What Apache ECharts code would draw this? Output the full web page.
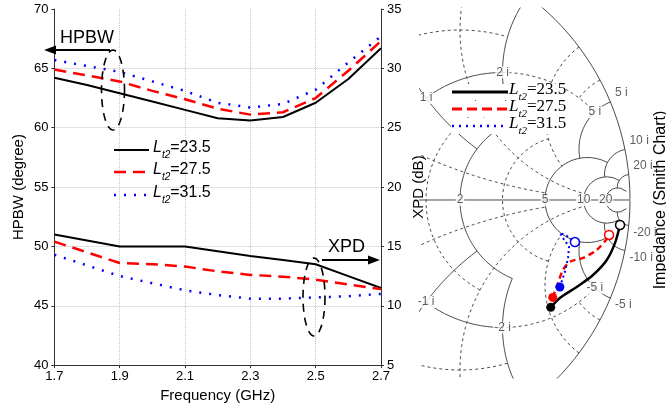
<!DOCTYPE html>
<html>
<head>
<meta charset="utf-8">
<script src="https://cdn.jsdelivr.net/npm/echarts@6/dist/echarts.min.js"></script>
<style>
html, body { margin: 0; padding: 0; background: #fff; }
#main { width: 666px; height: 408px; }
</style>
</head>
<body>
<div id="main"></div>
<script>
// frequency categories (GHz)
var freq = ['1.7', '1.8', '1.9', '2.0', '2.1', '2.2', '2.3', '2.4', '2.5', '2.6', '2.7'];
var names = ['23.5', '27.5', '31.5'];

// HPBW (degree), left axis
var hpbw235 = [64.2, 63.6, 62.9, 62.2, 61.5, 60.8, 60.6, 60.9, 62.1, 64.1, 66.7];
var hpbw275 = [64.9, 64.4, 63.9, 63.1, 62.4, 61.6, 61.1, 61.3, 62.5, 64.8, 67.3];
var hpbw315 = [65.7, 65.2, 64.7, 63.9, 63.1, 62.1, 61.7, 62.0, 63.2, 65.5, 67.7];

// XPD (dB), right axis
var xpd235 = [16.0, 15.5, 15.0, 15.0, 15.0, 14.6, 14.2, 13.85, 13.5, 12.5, 11.5];
var xpd275 = [15.4, 14.5, 13.6, 13.5, 13.3, 12.9, 12.6, 12.45, 12.2, 11.8, 11.4];
var xpd315 = [14.3, 13.4, 12.5, 11.9, 11.3, 10.9, 10.6, 10.6, 10.7, 10.8, 11.0];

// impedance traces, reflection coefficient (re, im), 1.7 GHz -> 2.7 GHz
var gRe235 = [0.689, 0.725, 0.791, 0.855, 0.909, 0.941, 0.961];
var gIm235 = [-0.421, -0.384, -0.341, -0.294, -0.235, -0.169, -0.098];
var gRe275 = [0.697, 0.718, 0.737, 0.765, 0.816, 0.869, 0.909, 0.918];
var gIm275 = [-0.382, -0.325, -0.275, -0.242, -0.227, -0.196, -0.153, -0.137];
var gRe315 = [0.725, 0.745, 0.757, 0.761, 0.737, 0.725, 0.753, 0.784];
var gIm315 = [-0.341, -0.281, -0.227, -0.183, -0.149, -0.129, -0.141, -0.165];

// smith grid: [r, xFrom, xTo] circles and [x, rFrom, rTo] arcs
var majorR = [[0, -1000, 1000], [1, 1, 2], [1, -2, -1], [2, -2, 2], [5, -10, 10], [10, -20, 20], [20, -50, 50]];
var majorX = [[1, 0, 2], [-1, 0, 2], [2, 0, 2], [-2, 0, 2], [5, 0, 5], [-5, 0, 5], [10, 0, 10], [-10, 0, 10], [20, 0, 20], [-20, 0, 20]];
var minorR = [[0.5, -2, 2], [1.5, -1.5, 1.5], [3, -3, 3], [1, 2, 5], [1, -5, -2]];
var minorX = [[0.5, 0, 5], [-0.5, 0, 5], [1.5, 0, 10], [-1.5, 0, 10], [3, 0, 5], [-3, 0, 5], [4, 0, 1], [-4, 0, 1]];

// smith tick labels: text, r, x, placement
var smithTicks = [
  ['2', 2, 0, 'c'], ['5', 5, 0, 'c'], ['10', 10, 0, 'c'], ['20', 20, 0, 'c'],
  ['1 i', 1, 1, 'c'], ['2 i', 1, 2, 'c'], ['5 i', 1, 5, 'c'],
  ['5 i', 0, 5, 'up'], ['10 i', 0, 10, 'up'], ['20 i', 0, 20, 'up'],
  ['-1 i', 1, -1, 'c'], ['-2 i', 1, -2, 'c'], ['-5 i', 1, -5, 'c'],
  ['-5 i', 0, -5, 'dn'], ['-10 i', 0, -10, 'dn'], ['-20 i', 0, -20, 'dn']
];

var colors = ['#000000', '#ff0000', '#0000ff'];
var SANS = '"Liberation Sans", Arial, sans-serif';
var SERIF = '"Liberation Serif", "Times New Roman", serif';

var myChart = echarts.init(document.getElementById('main'));

function gamma(r, x) {
  var d = (r + 1) * (r + 1) + x * x;
  return [(r * r + x * x - 1) / d, 2 * x / d];
}
function rCircle(seg) {
  var pts = [], a = Math.atan(seg[1]), b = Math.atan(seg[2]);
  for (var i = 0; i <= 160; i++) {
    pts.push(gamma(seg[0], Math.tan(a + (b - a) * i / 160)));
  }
  return pts;
}
function xArc(seg) {
  var pts = [], a = Math.atan(seg[1]), b = Math.atan(seg[2]);
  for (var i = 0; i <= 160; i++) {
    pts.push(gamma(Math.tan(a + (b - a) * i / 160), seg[0]));
  }
  return pts;
}
function gridSeries(pts, dashed) {
  return {
    type: 'line', xAxisIndex: 1, yAxisIndex: 2, data: pts, showSymbol: false,
    silent: true, z: 1, clip: true,
    lineStyle: { color: '#4a4a4a', width: 1, type: dashed ? [3, 3] : 'solid' }
  };
}

var series = [];
var hp = [hpbw235, hpbw275, hpbw315];
var xp = [xpd235, xpd275, xpd315];
var lineTypes = ['solid', [12, 7], [2, 8]];
var lineWidths = [2, 2.5, 2.5];
for (var k = 0; k < 3; k++) {
  series.push({
    name: 'L' + names[k], type: 'line', xAxisIndex: 0, yAxisIndex: 0, data: hp[k], showSymbol: false,
    lineStyle: { color: colors[k], width: lineWidths[k], type: lineTypes[k], cap: 'butt' }
  });
  series.push({
    name: 'L' + names[k], type: 'line', xAxisIndex: 0, yAxisIndex: 1, data: xp[k], showSymbol: false,
    lineStyle: { color: colors[k], width: lineWidths[k], type: lineTypes[k], cap: 'butt' }
  });
}

// smith grid
majorR.forEach(function (s) { series.push(gridSeries(rCircle(s), false)); });
majorX.forEach(function (s) { series.push(gridSeries(xArc(s), false)); });
minorR.forEach(function (s) { series.push(gridSeries(rCircle(s), true)); });
minorX.forEach(function (s) { series.push(gridSeries(xArc(s), true)); });
series.push(gridSeries([[-1, 0], [1, 0]], false));

// smith tick labels
series.push({
  type: 'scatter', xAxisIndex: 1, yAxisIndex: 2, silent: true, z: 3, symbolSize: 1,
  itemStyle: { color: 'rgba(0,0,0,0)' },
  data: smithTicks.map(function (t) {
    var g = gamma(t[1], t[2]);
    var lab = { show: true, formatter: t[0], color: '#333', fontSize: 12, fontFamily: SANS,
      backgroundColor: '#fff', padding: [0, 1] };
    if (t[3] === 'c') { lab.position = 'inside'; }
    else { lab.position = 'right'; lab.distance = 2; lab.offset = t[3] === 'up' ? [1, -9] : [1, 7]; }
    return { value: g, label: lab };
  })
});

// impedance traces
var gr = [[gRe235, gIm235], [gRe275, gIm275], [gRe315, gIm315]];
var sTypes = ['solid', [6, 4], [2, 3]];
var sWidths = [2.5, 2.5, 2];
for (var k = 0; k < 3; k++) {
  var re = gr[k][0], im = gr[k][1];
  series.push({
    type: 'line', xAxisIndex: 1, yAxisIndex: 2, z: 5, smooth: k < 2 ? 0.3 : false,
    showSymbol: true, silent: true,
    lineStyle: { color: colors[k], width: sWidths[k], type: sTypes[k] },
    itemStyle: { color: colors[k] },
    data: re.map(function (v, i) {
      if (i === 0) return { value: [v, im[i]], symbol: 'circle', symbolSize: 9, itemStyle: { color: colors[k] } };
      if (i === re.length - 1) return { value: [v, im[i]], symbol: 'circle', symbolSize: 9,
        itemStyle: { color: '#fff', borderColor: colors[k], borderWidth: 1.5 } };
      return { value: [v, im[i]], symbol: 'none' };
    })
  });
}

function ellipse(cx, cy, rx, ry) {
  var pts = [];
  for (var i = 0; i <= 64; i++) {
    var t = Math.PI * 2 * i / 64;
    pts.push([cx + rx * Math.cos(t), cy + ry * Math.sin(t)]);
  }
  return pts;
}
function legendText(x, y, val, font, size, sub) {
  return {
    type: 'text', x: x, y: y, z: 20,
    style: {
      text: '{i|L}{s|t2}{n|=' + val + '}', verticalAlign: 'middle',
      rich: {
        i: { fontFamily: font, fontSize: size, fontStyle: 'italic', verticalAlign: 'bottom', padding: [0, 0, 4, 0], fill: '#000' },
        s: { fontFamily: font, fontSize: sub, fontStyle: 'italic', verticalAlign: 'bottom', padding: [0, 0, 0, 0], fill: '#000' },
        n: { fontFamily: font, fontSize: size, verticalAlign: 'bottom', padding: [0, 0, 4, 0], fill: '#000' }
      }
    }
  };
}

var graphics = [
  { type: 'text', x: 60, y: 38, z: 20, style: { text: 'HPBW', fontFamily: SANS, fontSize: 18, fill: '#000', verticalAlign: 'middle' } },
  { type: 'line', z: 20, shape: { x1: 110, y1: 50, x2: 54, y2: 50 }, style: { stroke: '#000', lineWidth: 2 } },
  { type: 'polygon', z: 20, shape: { points: [[44, 50], [56, 45.5], [56, 54.5]] }, style: { fill: '#000' } },
  { type: 'polyline', z: 20, shape: { points: ellipse(113, 90, 11.5, 40) }, style: { stroke: '#000', lineWidth: 1.6, lineDash: [8, 6], fill: null } },
  { type: 'text', x: 328, y: 247, z: 20, style: { text: 'XPD', fontFamily: SANS, fontSize: 18, fill: '#000', verticalAlign: 'middle' } },
  { type: 'line', z: 20, shape: { x1: 322, y1: 260, x2: 370, y2: 260 }, style: { stroke: '#000', lineWidth: 2 } },
  { type: 'polygon', z: 20, shape: { points: [[380, 260], [368, 255.5], [368, 264.5]] }, style: { fill: '#000' } },
  { type: 'polyline', z: 20, shape: { points: ellipse(314, 297, 11, 39) }, style: { stroke: '#000', lineWidth: 1.6, lineDash: [8, 6], fill: null } },
  { type: 'text', x: 661, y: 200, rotation: Math.PI / 2, z: 20,
    style: { text: 'Impedance (Smith Chart)', fontFamily: SANS, fontSize: 16, fill: '#000', align: 'center', verticalAlign: 'middle' } }
];
var legY1 = [150, 172, 195], legY2 = [92, 109, 126];
for (var k = 0; k < 3; k++) {
  graphics.push({ type: 'line', z: 20, shape: { x1: 114, y1: legY1[k], x2: 149, y2: legY1[k] },
    style: { stroke: colors[k], lineWidth: lineWidths[k], lineDash: k ? lineTypes[k] : null } });
  graphics.push(legendText(153, legY1[k], names[k], SANS, 16, 10));
  graphics.push({ type: 'rect', z: 19, shape: { x: 451, y: legY2[k] - 8, width: 115, height: 16 }, style: { fill: '#fff' } });
  graphics.push({ type: 'line', z: 20, shape: { x1: 452, y1: legY2[k], x2: 508, y2: legY2[k] },
    style: { stroke: colors[k], lineWidth: k === 2 ? 2.5 : 3, lineDash: k === 1 ? [10, 5] : (k === 2 ? [2, 5] : null) } });
  graphics.push(legendText(509, legY2[k], names[k], SERIF, 17, 11));
}

var option = {
  animation: false,
  backgroundColor: '#fff',
  grid: [
    { left: 43, top: 9, width: 338, height: 364 },
    { left: 420, top: 8, width: 220, height: 370 }
  ],
  xAxis: [{
    gridIndex: 0, type: 'category', data: freq, boundaryGap: false,
    name: 'Frequency (GHz)', nameLocation: 'middle', nameGap: 14,
    nameTextStyle: { fontFamily: SANS, fontSize: 15, color: '#000' },
    axisLine: { lineStyle: { color: '#333' } },
    axisTick: { interval: 1, length: 3, lineStyle: { color: '#333' } },
    axisLabel: { interval: 1, margin: 5, fontFamily: SANS, fontSize: 13, color: '#000' },
    splitLine: { show: true, interval: 1, lineStyle: { color: '#c4c4c4', type: 'dotted' } }
  }, {
    gridIndex: 1, type: 'value', min: 0.17647, max: 1.03922, show: false
  }],
  yAxis: [{
    gridIndex: 0, type: 'value', min: 40, max: 70, interval: 5, position: 'left',
    name: 'HPBW (degree)', nameLocation: 'middle', nameGap: 28,
    nameTextStyle: { fontFamily: SANS, fontSize: 15, color: '#000' },
    axisLine: { show: true, lineStyle: { color: '#333' } },
    axisTick: { show: true, length: 3, lineStyle: { color: '#333' } },
    axisLabel: { margin: 6, fontFamily: SANS, fontSize: 13, color: '#000' },
    splitLine: { show: true, showMinLine: false, showMaxLine: false, lineStyle: { color: '#c4c4c4', type: 'dotted' } }
  }, {
    gridIndex: 0, type: 'value', min: 5, max: 35, interval: 5, position: 'right',
    name: 'XPD (dB)', nameLocation: 'middle', nameGap: 30, nameRotate: 90,
    nameTextStyle: { fontFamily: SANS, fontSize: 15, color: '#000' },
    axisLine: { show: true, lineStyle: { color: '#333' } },
    axisTick: { show: true, length: 3, lineStyle: { color: '#333' } },
    axisLabel: { margin: 6, fontFamily: SANS, fontSize: 13, color: '#000' },
    splitLine: { show: false }
  }, {
    gridIndex: 1, type: 'value', min: -0.69804, max: 0.75294, show: false
  }],
  graphic: graphics,
  series: series
};
myChart.setOption(option);
</script>
</body>
</html>
